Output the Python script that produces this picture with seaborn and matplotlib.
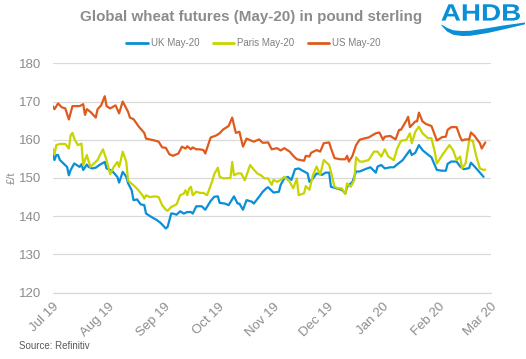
import numpy as np
import pandas as pd
import matplotlib
matplotlib.use("Agg")
import matplotlib.pyplot as plt
import matplotlib.dates as mdates
from matplotlib.patches import Polygon, PathPatch
from matplotlib.textpath import TextPath
from matplotlib.font_manager import FontProperties
from matplotlib.transforms import Affine2D
from matplotlib.lines import Line2D
import seaborn as sns

start_date = "2019-07-01"

uk_days = [0, 1, 2, 3, 4, 6, 8, 9, 10, 12, 13, 15, 16, 17, 19, 20, 22, 24, 26, 29, 30, 33, 36, 37, 39, 41,
           42, 44, 45, 47, 49, 51, 52, 55, 58, 60, 63, 64, 66, 67, 69, 71, 73, 75, 77, 78, 80, 83, 85, 88,
           90, 92, 93, 96, 98, 101, 103, 104, 106, 108, 111, 112, 115, 117, 119, 120, 123, 126, 127, 129,
           131, 133, 135, 137, 140, 142, 143, 145, 147, 150, 152, 154, 155, 158, 161, 163, 164, 167, 169,
           171, 174, 177, 180, 181, 183, 185, 188, 190, 192, 194, 195, 197, 199, 200, 202, 204, 206, 208,
           211, 214, 217, 219, 220, 222, 225, 227, 229, 232, 233, 235, 238, 240]
uk_vals = [156.2, 154.7, 156.0, 156.0, 154.7, 153.8, 152.9, 150.7, 152.1, 153.8, 153.5, 152.9, 153.6,
           152.1, 153.5, 152.9, 152.5, 152.7, 153.4, 154.2, 152.5, 151.9, 150.3, 148.8, 151.6, 150.3,
           148.6, 146.8, 144.2, 144.4, 143.1, 142.9, 140.7, 139.8, 139.0, 138.3, 136.8, 137.2, 140.7,
           140.7, 140.4, 141.3, 140.7, 141.1, 141.1, 140.7, 142.6, 142.6, 141.7, 144.0, 145.1, 145.2,
           143.5, 143.3, 142.9, 145.2, 143.3, 143.3, 141.7, 144.2, 143.8, 143.3, 145.1, 146.4, 147.3,
           147.6, 146.2, 146.4, 148.2, 149.9, 150.3, 149.5, 152.3, 152.5, 151.7, 151.2, 149.0, 149.9,
           151.2, 150.8, 151.4, 151.4, 147.7, 147.3, 146.9, 146.0, 147.7, 149.0, 151.7, 151.7, 152.3,
           152.8, 151.4, 153.0, 153.4, 152.5, 152.8, 152.8, 153.6, 154.3, 154.7, 156.0, 157.3, 156.0,
           156.6, 158.6, 157.3, 156.5, 155.4, 152.1, 151.9, 151.9, 153.7, 154.3, 154.3, 153.0, 152.3,
           152.6, 154.0, 153.0, 151.4, 150.3]

paris_days = [0, 1, 2, 4, 7, 9, 10, 11, 12, 14, 16, 17, 19, 21, 23, 25, 26, 28, 30, 32, 34, 36, 37, 38,
              39, 41, 42, 45, 47, 50, 51, 52, 54, 57, 59, 61, 63, 64, 66, 69, 71, 73, 74, 75, 76, 77, 78,
              80, 82, 84, 86, 87, 89, 90, 92, 93, 95, 99, 100, 101, 103, 105, 107, 110, 112, 114, 116,
              118, 120, 122, 123, 125, 127, 129, 130, 132, 134, 136, 137, 140, 141, 143, 145, 147, 149,
              151, 154, 155, 157, 159, 161, 163, 164, 166, 168, 169, 171, 173, 176, 179, 181, 183, 185,
              187, 190, 192, 194, 197, 199, 200, 202, 204, 206, 207, 209, 211, 213, 214, 217, 219, 221,
              223, 225, 227, 228, 230, 232, 234, 236, 238, 240, 241]
paris_vals = [157.7, 156.2, 158.6, 158.9, 158.9, 157.7, 161.2, 161.8, 160.3, 158.6, 159.0, 153.4, 156.0,
              152.9, 153.8, 154.7, 155.7, 157.5, 154.7, 151.0, 152.9, 154.2, 152.9, 154.8, 156.9, 154.2,
              149.3, 148.1, 147.2, 145.5, 144.6, 145.5, 145.0, 145.2, 145.0, 142.9, 141.7, 141.4, 142.4,
              143.1, 145.5, 145.9, 146.8, 145.5, 147.2, 147.7, 145.5, 146.4, 146.1, 146.1, 145.5, 146.8,
              149.4, 151.0, 152.7, 150.3, 149.9, 150.0, 154.2, 150.7, 151.2, 151.2, 149.4, 153.4, 152.2,
              151.2, 150.7, 149.9, 149.9, 148.2, 149.5, 149.0, 149.5, 150.3, 149.9, 149.0, 147.3, 149.9,
              145.5, 146.0, 147.9, 146.9, 150.8, 153.0, 150.8, 154.7, 153.4, 151.7, 147.7, 147.3, 147.3,
              145.8, 148.6, 147.7, 149.5, 155.4, 154.3, 154.3, 154.7, 156.9, 156.9, 155.6, 157.5, 155.6,
              154.7, 157.8, 159.7, 160.0, 161.7, 159.1, 162.1, 163.4, 161.7, 161.3, 160.4, 160.4, 156.5,
              153.8, 156.0, 157.3, 158.6, 157.3, 154.7, 155.6, 152.5, 153.8, 159.8, 159.8, 155.6, 152.5,
              152.1, 152.2]

us_days = [0, 1, 3, 5, 7, 9, 11, 15, 17, 18, 19, 21, 24, 25, 27, 29, 30, 32, 35, 37, 39, 42, 43, 45,
           48, 51, 52, 56, 59, 61, 63, 65, 67, 70, 72, 74, 75, 77, 78, 80, 82, 84, 85, 88, 91, 93, 95,
           98, 99, 100, 102, 104, 106, 108, 112, 115, 117, 120, 122, 125, 127, 129, 132, 134, 136, 140,
           141, 143, 144, 147, 149, 150, 151, 154, 155, 157, 160, 163, 164, 165, 167, 169, 171, 174,
           176, 180, 182, 184, 185, 188, 191, 193, 194, 197, 198, 199, 202, 203, 204, 206, 208, 211,
           214, 217, 219, 220, 222, 225, 227, 228, 230, 232, 233, 235, 238, 239, 241]
us_vals = [168.8, 168.0, 169.5, 168.5, 168.2, 165.3, 168.8, 168.8, 169.3, 166.5, 168.0, 167.3, 165.8,
           168.0, 169.0, 171.4, 168.8, 168.2, 169.0, 166.9, 170.0, 167.3, 165.8, 165.4, 163.4, 161.8,
           160.3, 159.9, 159.5, 158.0, 157.9, 156.2, 155.8, 156.4, 158.2, 157.7, 158.3, 157.5, 158.0,
           157.5, 157.5, 157.3, 156.4, 160.6, 161.1, 161.7, 162.7, 163.6, 164.7, 165.8, 161.8, 162.1,
           158.2, 160.3, 159.5, 160.1, 159.2, 159.3, 157.5, 157.8, 157.2, 157.8, 156.9, 155.8, 154.9,
           154.5, 155.8, 155.6, 156.6, 157.3, 156.9, 158.0, 159.1, 159.3, 157.8, 155.2, 154.9, 154.9,
           155.8, 154.3, 155.8, 158.6, 160.0, 160.4, 160.6, 161.7, 161.9, 160.0, 160.8, 161.0, 160.1,
           162.6, 162.6, 165.0, 166.0, 163.3, 164.8, 164.8, 167.1, 164.8, 164.1, 163.6, 159.8, 160.7,
           160.8, 162.6, 163.3, 163.3, 160.7, 159.8, 160.1, 160.1, 161.9, 161.0, 159.1, 157.7, 159.3]

series_names = ["UK May-20", "Paris May-20", "US May-20"]
series_colors = ["#0a8fd6", "#c8d400", "#df5a1c"]

frames = []
for name, days, vals in zip(series_names, [uk_days, paris_days, us_days], [uk_vals, paris_vals, us_vals]):
    d = pd.Timestamp(start_date) + pd.to_timedelta(days, unit="D")
    frames.append(pd.DataFrame({"date": d, "price": vals, "series": name}))
df = pd.concat(frames, ignore_index=True)

sns.set_style("white")
plt.rcParams["font.family"] = ["Liberation Sans", "DejaVu Sans"]

W, H = 526, 359
fig = plt.figure(figsize=(W / 100, H / 100), dpi=100)
ax = fig.add_axes([0.1002, 0.1847, 0.8327, 0.639])

sns.lineplot(data=df, x="date", y="price", hue="series", hue_order=series_names,
             palette=series_colors, linewidth=1.6, ax=ax, legend=False)

ax.set_ylim(120, 180)
ax.set_yticks([120, 130, 140, 150, 160, 170, 180])
ax.set_xlim(pd.Timestamp("2019-07-01"), pd.Timestamp("2020-03-01"))
ax.xaxis.set_major_locator(mdates.MonthLocator())
ax.xaxis.set_major_formatter(mdates.DateFormatter("%b %y"))
ax.grid(axis="y", color="#d9d9d9", linewidth=0.9)
ax.set_axisbelow(True)
for s in ["top", "right", "left"]:
    ax.spines[s].set_visible(False)
ax.spines["bottom"].set_color("#d9d9d9")
ax.spines["bottom"].set_linewidth(0.9)
ax.tick_params(axis="x", colors="#8c8c8c", length=4, width=0.9, color="#d9d9d9", labelsize=9.5, pad=2)
ax.tick_params(axis="y", colors="#8c8c8c", length=0, labelsize=9.5, pad=8)
for lab in ax.get_xticklabels():
    lab.set_rotation(45)
    lab.set_ha("right")
    lab.set_rotation_mode("anchor")
ax.set_xlabel("")
ax.set_ylabel("£/t", color="#8c8c8c", fontsize=8, labelpad=2)

handles = [Line2D([0], [0], color=c, linewidth=2) for c in series_colors]
fig.legend(handles, series_names, loc="center", bbox_to_anchor=(0.482, 0.879), ncol=3,
           frameon=False, fontsize=7, handlelength=2.2, handletextpad=0.3, columnspacing=1.4,
           labelcolor="#7f7f7f")

fig.text(0.478, 0.953, "Global wheat futures (May-20) in pound sterling", ha="center", va="center",
         fontsize=10.9, fontweight="bold", color="#8c8c8c")
fig.text(0.036, 0.035, "Source: Refinitiv", ha="left", va="center", fontsize=7, color="#595959")

# AHDB logo (decoration), placed in pixel coordinates
logo_blue = "#0a8fd6"
tp = TextPath((0, 0), "AHDB", size=10, prop=FontProperties(family="Liberation Sans", weight="bold"))
bb = tp.get_extents()
x0, x1, ytop, ybot = 441.5, 520.0, 4.3, 20.6
sx = (x1 - x0) / bb.width
sy = (ybot - ytop) / bb.height
tr = Affine2D().translate(-bb.x0, -bb.y0).scale(sx / W, sy / H).translate(x0 / W, 1 - ybot / H)
fig.patches.append(PathPatch(tr.transform_path(tp), transform=fig.transFigure, color=logo_blue, lw=0))

top_pts = [(441.5, 24.5), (447, 27.8), (453.3, 30.3), (462, 31.0), (470, 30.8), (486.7, 28.3), (503.3, 25.5), (525, 22.5)]
bot_pts = [(441.5, 25.5), (447, 31.5), (453.3, 34.8), (462, 36.0), (470, 35.8), (486.7, 33.2), (503.3, 29.5), (525, 24.3)]
verts = [(x / W, 1 - y / H) for x, y in top_pts] + [(x / W, 1 - y / H) for x, y in bot_pts[::-1]]
fig.patches.append(Polygon(verts, closed=True, transform=fig.transFigure, color=logo_blue, lw=0))

fig.savefig("out.png", dpi=100)
